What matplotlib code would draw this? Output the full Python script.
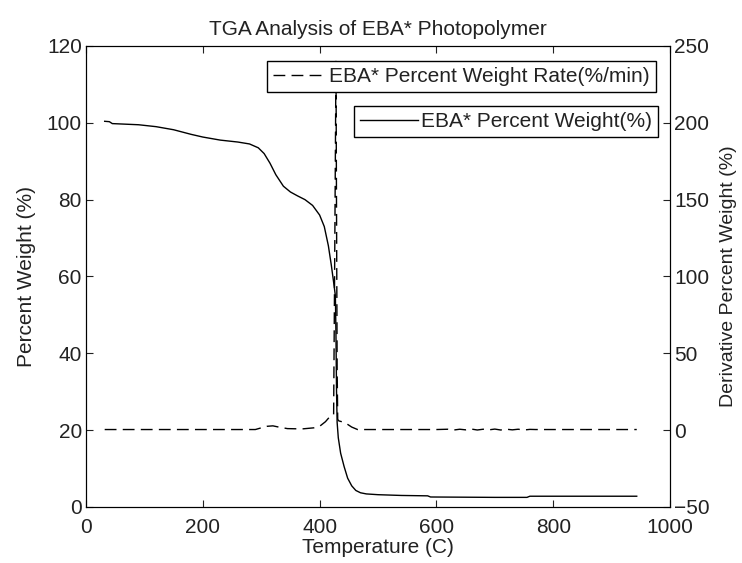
import matplotlib
matplotlib.use("Agg")
import matplotlib.pyplot as plt

plt.rcParams['font.family'] = ['Liberation Sans', 'DejaVu Sans']
plt.rcParams['font.size'] = 15
plt.rcParams['text.color'] = '#222222'
plt.rcParams['axes.labelcolor'] = '#222222'
plt.rcParams['xtick.color'] = '#222222'
plt.rcParams['ytick.color'] = '#222222'

# percent weight curve (left axis)
temp_w = [32, 40, 45, 60, 90, 120, 150, 180, 200, 230, 260, 280, 295, 305, 315,
          325, 338, 350, 362, 375, 388, 400, 408, 415, 420, 424, 427, 428, 429,
          430, 432, 436, 442, 448, 455, 462, 470, 480, 500, 540, 585, 590, 700,
          755, 760, 850, 943]
weight = [100.4, 100.3, 99.8, 99.7, 99.5, 99.0, 98.2, 97.0, 96.3, 95.5, 95.0,
          94.5, 93.5, 92.0, 89.5, 86.5, 83.5, 82.0, 81.0, 80.0, 78.5, 76.0, 73.0,
          68.0, 63.0, 58.5, 55.0, 45.0, 30.0, 22.0, 18.0, 14.0, 10.5, 7.5, 5.5,
          4.3, 3.7, 3.4, 3.2, 3.0, 2.9, 2.6, 2.5, 2.5, 2.8, 2.8, 2.8]

# derivative curve (right axis)
temp_r = [32, 100, 200, 290, 300, 310, 320, 330, 345, 370, 390, 400, 410, 418,
          424, 426, 428, 430, 431, 433, 443, 455, 465, 600, 620, 630, 640, 650,
          660, 670, 680, 690, 700, 710, 720, 730, 740, 750, 760, 770, 943]
rate = [0.4, 0.4, 0.4, 0.4, 1.5, 2.5, 2.8, 2.0, 1.0, 0.8, 1.5, 2.5, 5.5, 9.0,
        10.0, 120.0, 240.0, 40.0, 7.0, 6.0, 5.0, 2.0, 0.4, 0.4, 0.6, 0.1, 0.6,
        0.2, 0.7, 0.1, 0.6, 0.2, 0.7, 0.1, 0.6, 0.2, 0.6, 0.1, 0.5, 0.4, 0.4]

fig = plt.figure(figsize=(7.42, 5.63), dpi=100)
ax1 = fig.add_axes([0.1159, 0.0995, 0.7871, 0.8188])
ax2 = ax1.twinx()

l1, = ax1.plot(temp_w, weight, color='black', lw=1.0, label='EBA* Percent Weight(%)')
l2, = ax2.plot(temp_r, rate, color='black', lw=1.0, dashes=(8.5, 4.5),
               label='EBA* Percent Weight Rate(%/min)')

ax1.set_xlim(0, 1000)
ax1.set_ylim(0, 120)
ax2.set_ylim(-50, 250)
ax1.set_xticks(range(0, 1001, 200))
ax1.set_yticks(range(0, 121, 20))
ax2.set_yticks(range(-50, 251, 50))

ax1.tick_params(axis='y', direction='in', length=5, right=False, pad=3)
ax1.tick_params(axis='x', direction='in', length=5, top=True, pad=8)
ax2.tick_params(direction='in', length=5, pad=3)

ax1.set_title('TGA Analysis of EBA* Photopolymer', fontsize=15, pad=8)
ax1.set_xlabel('Temperature (C)', labelpad=1)
ax1.set_ylabel('Percent Weight (%)', labelpad=8)
ax2.set_ylabel('Derivative Percent Weight (%)', rotation=90, labelpad=7, fontsize=14)

leg1 = ax2.legend(handles=[l2], loc='upper right', bbox_to_anchor=(0.976, 0.9675),
                  borderaxespad=0, fancybox=False, framealpha=1, edgecolor='black',
                  handlelength=2.6, handletextpad=0.1, borderpad=0.3)
leg1.get_frame().set_linewidth(1.0)
ax2.add_artist(leg1)
leg2 = ax2.legend(handles=[l1], loc='upper right', bbox_to_anchor=(0.979, 0.870),
                  borderaxespad=0, fancybox=False, framealpha=1, edgecolor='black',
                  handlelength=2.8, handletextpad=0.1, borderpad=0.3)
leg2.get_frame().set_linewidth(1.0)

fig.savefig('out.png', dpi=100)
